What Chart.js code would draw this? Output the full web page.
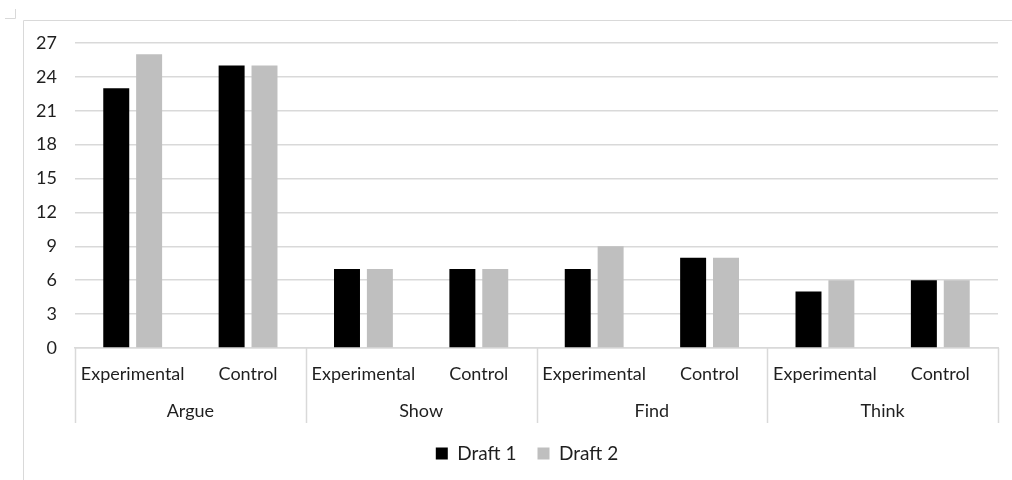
<!DOCTYPE html>
<html>
<head>
<meta charset="utf-8">
<script src="https://cdn.jsdelivr.net/npm/chart.js@4"></script>
<style>
  html, body { margin: 0; padding: 0; background: #fff; }
  #wrap { width: 1012px; height: 480px; }
</style>
</head>
<body>
<div id="wrap"><canvas id="chart"></canvas></div>
<script>
const conditions = ['Experimental', 'Control', 'Experimental', 'Control', 'Experimental', 'Control', 'Experimental', 'Control'];
const verbs = ['Argue', 'Show', 'Find', 'Think'];
const draft1 = [23, 25, 7, 7, 7, 8, 5, 6];
const draft2 = [26, 25, 7, 7, 9, 8, 6, 6];
const yTicks = [0, 3, 6, 9, 12, 15, 18, 21, 24, 27];

const FONT = 'Lato, "Open Sans", sans-serif';
const TEXT = '#1f1f1f';
const LINE = '#d9d9d9';

// frame, corner mark and group separators below the axis
const decor = {
  id: 'decor',
  afterLayout(chart) {
    // legend sits a bit right of the canvas centre in the original
    chart.legend.left += 28;
    chart.legend.right += 28;
  },
  afterDraw(chart) {
    const { ctx, chartArea, scales } = chart;
    const x = scales.x;
    const x2 = scales.x2;
    ctx.save();
    ctx.strokeStyle = LINE;
    ctx.lineWidth = 1;
    ctx.beginPath();
    ctx.moveTo(23.5, chart.height);
    ctx.lineTo(23.5, 20.5);
    ctx.lineTo(chart.width, 20.5);
    ctx.moveTo(15.5, 9);
    ctx.lineTo(15.5, 18.5);
    ctx.lineTo(5, 18.5);
    ctx.stroke();

    ctx.beginPath();
    const step = x.getPixelForValue(1) - x.getPixelForValue(0);
    for (let g = 0; g <= verbs.length; g++) {
      const px = Math.round(x.getPixelForValue(g * 2) - step / 2) + 0.5;
      ctx.moveTo(px, chartArea.bottom);
      ctx.lineTo(px, x2.bottom);
    }
    ctx.lineWidth = 1.5;
    ctx.stroke();
    ctx.restore();
  },
};

new Chart(document.getElementById('chart'), {
  type: 'bar',
  data: {
    labels: conditions,
    datasets: [
      {
        label: 'Draft 1',
        data: draft1,
        backgroundColor: '#000000',
        categoryPercentage: 0.57,
        barPercentage: 0.79,
      },
      {
        label: 'Draft 2',
        data: draft2,
        backgroundColor: '#bfbfbf',
        categoryPercentage: 0.57,
        barPercentage: 0.79,
      },
    ],
  },
  options: {
    responsive: true,
    maintainAspectRatio: false,
    animation: false,
    layout: { padding: { top: 43, right: 14, bottom: 7, left: 0 } },
    plugins: {
      legend: {
        position: 'bottom',
        labels: {
          color: TEXT,
          font: { family: FONT, size: 19 },
          boxWidth: 12,
          boxHeight: 12,
          padding: 21,
        },
      },
      tooltip: { enabled: false },
    },
    scales: {
      x: {
        grid: { display: false, drawTicks: false },
        border: { color: LINE, width: 1.5 },
        ticks: {
          color: TEXT,
          font: { family: FONT, size: 18 },
          padding: 15,
          maxRotation: 0,
          autoSkip: false,
        },
        afterFit: (scale) => { scale.height = 45; },
      },
      x2: {
        type: 'category',
        labels: verbs,
        position: 'bottom',
        offset: true,
        grid: { display: false, drawTicks: false },
        border: { display: false },
        ticks: {
          color: TEXT,
          font: { family: FONT, size: 18 },
          padding: 7,
          maxRotation: 0,
        },
        afterFit: (scale) => { scale.height = 30; },
      },
      y: {
        min: 0,
        max: 27,
        afterBuildTicks: (scale) => { scale.ticks = yTicks.map((v) => ({ value: v })); },
        grid: { color: LINE, lineWidth: 1.5, drawTicks: false },
        border: { display: false },
        ticks: {
          color: TEXT,
          font: { family: FONT, size: 18 },
          padding: 18,
        },
        afterFit: (scale) => { scale.width = 75; },
      },
    },
  },
  plugins: [decor],
});
</script>
</body>
</html>
